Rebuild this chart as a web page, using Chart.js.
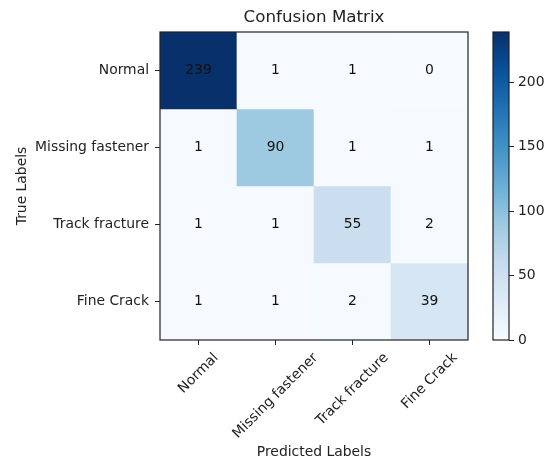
<!DOCTYPE html>
<html>
<head>
<meta charset="utf-8">
<script src="https://cdn.jsdelivr.net/npm/chart.js@4/dist/chart.umd.min.js"></script>
<style>
  html, body { margin: 0; padding: 0; background: #fff; }
  #wrap { position: relative; width: 551px; height: 462px; }
  #main { position: absolute; left: 0; top: 0; }
  #cbar { position: absolute; left: 470px; top: 0; }
</style>
</head>
<body>
<div id="wrap">
  <canvas id="main" width="551" height="462"></canvas>
  <canvas id="cbar" width="81" height="462"></canvas>
</div>
<script>
// Class names (rows = true label, columns = predicted label)
const classNames = ['Normal', 'Missing fastener', 'Track fracture', 'Fine Crack'];

// Confusion counts, one array per true class
const rowNormal   = [239, 1, 1, 0];
const rowMissing  = [1, 90, 1, 1];
const rowFracture = [1, 1, 55, 2];
const rowCrack    = [1, 1, 2, 39];
const matrix = [rowNormal, rowMissing, rowFracture, rowCrack];

// Colour bar ticks
const colorbarTicks = [0, 50, 100, 150, 200];

const vmax = Math.max(...matrix.flat());
const FONT = 'DejaVu Sans';
const INK = '#222';

// matplotlib "Blues" colour map anchors
const BLUES = [
  [247, 251, 255], [222, 235, 247], [198, 219, 239], [158, 202, 225],
  [107, 174, 214], [66, 146, 198], [33, 113, 181], [8, 81, 156], [8, 48, 107]
];
function blues(t) {
  t = Math.min(1, Math.max(0, t));
  const p = t * (BLUES.length - 1);
  const i = Math.min(BLUES.length - 2, Math.floor(p));
  const f = p - i;
  const a = BLUES[i], b = BLUES[i + 1];
  const c = a.map((v, k) => Math.round(v + (b[k] - v) * f));
  return `rgb(${c[0]},${c[1]},${c[2]})`;
}

// Box around the plotting area
const framePlugin = {
  id: 'frame',
  afterDraw(chart) {
    const { ctx, chartArea: a } = chart;
    ctx.save();
    ctx.strokeStyle = INK;
    ctx.lineWidth = 1.2;
    ctx.strokeRect(a.left, a.top, a.right - a.left, a.bottom - a.top);
    ctx.restore();
  }
};

// Count written in the middle of every cell
const cellTextPlugin = {
  id: 'cellText',
  afterDatasetsDraw(chart) {
    const { ctx } = chart;
    ctx.save();
    ctx.font = `13.9px "${FONT}"`;
    ctx.fillStyle = '#111';
    ctx.textAlign = 'center';
    ctx.textBaseline = 'middle';
    chart.data.datasets.forEach((ds, r) => {
      chart.getDatasetMeta(r).data.forEach((el, c) => {
        ctx.fillText(String(matrix[r][c]), el.x, (el.y + el.base) / 2);
      });
    });
    ctx.restore();
  }
};

// Predicted-class labels, rotated 45 degrees, centred under each tick
const rotatedLabelPlugin = {
  id: 'rotatedLabels',
  afterDraw(chart) {
    const xs = chart.scales.x;
    const { ctx } = chart;
    const size = 13.9;
    const h = size * 1.164;
    const top = xs.top + 5 + 4.9;
    ctx.save();
    ctx.font = `${size}px "${FONT}"`;
    ctx.fillStyle = INK;
    ctx.textAlign = 'center';
    ctx.textBaseline = 'middle';
    xs.ticks.forEach((t, i) => {
      const label = xs.getLabelForValue(t.value);
      const w = ctx.measureText(label).width;
      const px = xs.getPixelForTick(i);
      const cy = top + (w + h) / (2 * Math.SQRT2);
      ctx.save();
      ctx.translate(px, cy);
      ctx.rotate(-Math.PI / 4);
      ctx.fillText(label, 0, 0);
      ctx.restore();
    });
    ctx.restore();
  }
};

// One floating-bar dataset per true class; each bar fills one cell
const datasets = matrix.map((row, r) => ({
  label: classNames[r],
  data: row.map(() => [r - 0.5, r + 0.5]),
  backgroundColor: row.map(v => blues(v / vmax)),
  borderWidth: 0,
  grouped: false,
  barPercentage: 1,
  categoryPercentage: 1
}));

new Chart(document.getElementById('main'), {
  type: 'bar',
  data: { labels: classNames, datasets },
  options: {
    responsive: false,
    animation: false,
    events: [],
    layout: { padding: { left: 0, right: 83, top: 0, bottom: 0 } },
    plugins: {
      legend: { display: false },
      tooltip: { enabled: false },
      title: {
        display: true,
        text: 'Confusion Matrix',
        fullSize: false,
        color: INK,
        font: { family: FONT, size: 16.7, weight: 'normal', lineHeight: '20px' },
        padding: { top: 8, bottom: 4 }
      }
    },
    scales: {
      x: {
        type: 'category',
        offset: true,
        afterFit(scale) { scale.height = 122; },
        border: { display: false },
        grid: { display: true, offset: false, drawOnChartArea: false, drawTicks: true, tickLength: 5, tickColor: INK, tickWidth: 1 },
        ticks: { display: false },
        title: {
          display: true,
          text: 'Predicted Labels',
          color: INK,
          font: { family: FONT, size: 13.9 },
          padding: { top: 0, bottom: 1 }
        }
      },
      y: {
        type: 'linear',
        reverse: true,
        min: -0.5,
        max: 3.5,
        afterFit(scale) { scale.width = 160; },
        afterBuildTicks(scale) { scale.ticks = classNames.map((_, i) => ({ value: i })); },
        border: { display: false },
        grid: { display: true, drawOnChartArea: false, drawTicks: true, tickLength: 5, tickColor: INK, tickWidth: 1 },
        ticks: {
          color: INK,
          padding: 6,
          font: { family: FONT, size: 13.9 },
          callback: (v) => classNames[v]
        },
        title: {
          display: true,
          text: 'True Labels',
          color: INK,
          font: { family: FONT, size: 13.9 },
          padding: { top: 14, bottom: 0 }
        }
      }
    }
  },
  plugins: [cellTextPlugin, rotatedLabelPlugin, framePlugin]
});

// Colour bar: a single floating bar from 0 to the largest count, filled with the colour map
new Chart(document.getElementById('cbar'), {
  type: 'bar',
  data: {
    labels: [''],
    datasets: [{
      data: [[0, vmax]],
      borderWidth: 0,
      barPercentage: 1,
      categoryPercentage: 1,
      backgroundColor(ctx) {
        const chart = ctx.chart;
        const ys = chart.scales.y;
        if (!ys || !chart.chartArea) return blues(0.5);
        const y0 = ys.getPixelForValue(0);
        const y1 = ys.getPixelForValue(vmax);
        if (!Number.isFinite(y0) || !Number.isFinite(y1) || y0 === y1) return blues(0.5);
        const g = chart.ctx.createLinearGradient(0, y0, 0, y1);
        BLUES.forEach((c, k) => g.addColorStop(k / (BLUES.length - 1), `rgb(${c[0]},${c[1]},${c[2]})`));
        return g;
      }
    }]
  },
  options: {
    responsive: false,
    animation: false,
    events: [],
    layout: { padding: { left: 23, right: 0, top: 32, bottom: 122 } },
    plugins: { legend: { display: false }, tooltip: { enabled: false } },
    scales: {
      x: { display: false, offset: true },
      y: {
        position: 'right',
        min: 0,
        max: vmax,
        afterFit(scale) { scale.width = 42; },
        afterBuildTicks(scale) { scale.ticks = colorbarTicks.map(v => ({ value: v })); },
        border: { display: false },
        grid: { display: true, drawOnChartArea: false, drawTicks: true, tickLength: 5, tickColor: INK, tickWidth: 1 },
        ticks: { color: INK, padding: 4, font: { family: FONT, size: 13.9 } }
      }
    }
  },
  plugins: [framePlugin]
});
</script>
</body>
</html>
